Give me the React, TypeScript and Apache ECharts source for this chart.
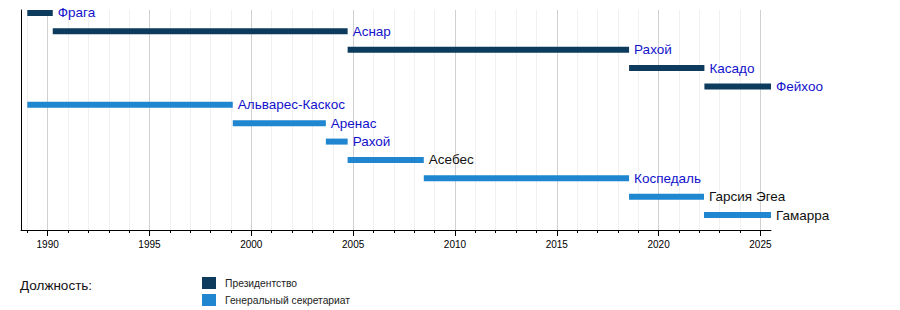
import React, { useEffect, useRef } from 'react';
import * as echarts from 'echarts';

// Президентство (decimal years)
const presNames = ['Фрага', 'Аснар', 'Рахой', 'Касадо', 'Фейхоо'];
const presStart = [1989.0, 1990.25, 2004.73, 2018.55, 2022.25];
const presEnd = [1990.25, 2004.73, 2018.55, 2022.25, 2025.52];
const presLinked = [true, true, true, true, true];
const presRows = [0, 1, 2, 3, 4];

// Генеральный секретариат
const secNames = ['Альварес-Каскос', 'Аренас', 'Рахой', 'Асебес', 'Коспедаль', 'Гарсия Эгеа', 'Гамарра'];
const secStart = [1989.0, 1999.09, 2003.66, 2004.73, 2008.47, 2018.55, 2022.23];
const secEnd = [1999.09, 2003.66, 2004.73, 2008.47, 2018.55, 2022.23, 2025.52];
const secLinked = [true, true, true, false, true, false, false];
const secRows = [5, 6, 7, 8, 9, 10, 11];

const minorYears = [1989, 1990, 1991, 1992, 1993, 1994, 1995, 1996, 1997, 1998, 1999, 2000, 2001, 2002, 2003, 2004, 2005, 2006, 2007, 2008, 2009, 2010, 2011, 2012, 2013, 2014, 2015, 2016, 2017, 2018, 2019, 2020, 2021, 2022, 2023, 2024, 2025];
const majorYears = [1990, 1995, 2000, 2005, 2010, 2015, 2020, 2025];

const seriesNames = ['Президентство', 'Генеральный секретариат'];
const PRES_COLOR = '#0c3b5e';
const SEC_COLOR = '#1f86cf';
const LINK_COLOR = '#1212cc';
const FONT = 'Liberation Sans';
const X_MIN = 1988.69;
const X_MAX = 2025.52;

function makeSeries(name: string, color: string, names: string[], starts: number[], ends: number[], rows: number[], linked: boolean[]) {
  return {
    type: 'custom',
    name,
    xAxisIndex: 0,
    yAxisIndex: 0,
    itemStyle: { color },
    z: 5,
    clip: false,
    encode: { x: [0, 1], y: 2 },
    data: names.map((_, i) => [starts[i], ends[i], rows[i]]),
    renderItem: (params: any, api: any) => {
      const i = params.dataIndex;
      const s = api.coord([api.value(0), api.value(2)]);
      const e = api.coord([api.value(1), api.value(2)]);
      const h = 6;
      return {
        type: 'group',
        children: [
          {
            type: 'rect',
            shape: { x: s[0], y: s[1] - h / 2, width: e[0] - s[0], height: h },
            style: { fill: color },
          },
          {
            type: 'text',
            x: e[0] + 5,
            y: e[1],
            style: {
              text: names[i],
              fill: linked[i] ? LINK_COLOR : '#111',
              fontSize: 13.5,
              fontFamily: FONT,
              verticalAlign: 'middle',
              align: 'left',
            },
          },
        ],
      };
    },
  };
}

export default function App() {
  const ref = useRef<HTMLDivElement>(null);
  useEffect(() => {
    document.body.style.margin = '0';
    const chart = echarts.init(ref.current!, null, { renderer: 'svg' });
    const option: any = {
      animation: false,
      grid: { left: 21, right: 129, top: 10, bottom: 80, containLabel: false },
      xAxis: [
        {
          type: 'value',
          min: X_MIN,
          max: X_MAX,
          position: 'bottom',
          axisLine: { show: true, onZero: false, lineStyle: { color: '#000', width: 1 } },
          axisTick: { show: true, customValues: minorYears, length: 3, lineStyle: { color: '#000' } },
          axisLabel: { show: false },
          splitLine: { show: false },
        },
        {
          type: 'value',
          min: X_MIN,
          max: X_MAX,
          position: 'bottom',
          axisLine: { show: false, onZero: false },
          axisTick: { show: true, customValues: majorYears, length: 6, lineStyle: { color: '#000' } },
          axisLabel: {
            show: true,
            customValues: majorYears,
            margin: 9,
            fontSize: 10,
            color: '#000',
            fontFamily: FONT,
            formatter: (v: number) => String(Math.round(v)),
          },
          splitLine: { show: false },
        },
      ],
      yAxis: {
        type: 'value',
        inverse: true,
        min: -0.16,
        max: 11.81,
        axisLine: { show: true, onZero: false, lineStyle: { color: '#000', width: 1 } },
        axisTick: { show: false },
        axisLabel: { show: false },
        splitLine: { show: false },
      },
      legend: {
        data: seriesNames,
        orient: 'vertical',
        left: 202,
        top: 277,
        padding: 0,
        icon: 'rect',
        itemWidth: 14,
        itemHeight: 12,
        itemGap: 5,
        selectedMode: false,
        textStyle: { fontSize: 10.3, color: '#222', fontFamily: FONT, padding: [0, 0, 0, 4] },
      },
      graphic: [
        {
          type: 'text',
          left: 20,
          top: 278,
          style: { text: 'Должность:', fontSize: 13.5, fill: '#111', fontFamily: FONT },
        },
      ],
      series: [
        {
          type: 'line',
          name: 'grid-minor',
          data: [],
          z: 1,
          silent: true,
          markLine: {
            z: 1,
            silent: true,
            symbol: 'none',
            label: { show: false },
            lineStyle: { color: '#f0f0f0', width: 1, type: 'solid' },
            data: minorYears.map((y) => ({ xAxis: y })),
          },
        },
        {
          type: 'line',
          name: 'grid-major',
          data: [],
          z: 1,
          silent: true,
          markLine: {
            z: 1,
            silent: true,
            symbol: 'none',
            label: { show: false },
            lineStyle: { color: '#d0d0d0', width: 1, type: 'solid' },
            data: majorYears.map((y) => ({ xAxis: y })),
          },
        },
        makeSeries(seriesNames[0], PRES_COLOR, presNames, presStart, presEnd, presRows, presLinked),
        makeSeries(seriesNames[1], SEC_COLOR, secNames, secStart, secEnd, secRows, secLinked),
      ],
    };
    chart.setOption(option);
    return () => chart.dispose();
  }, []);
  return <div ref={ref} style={{ width: 900, height: 310 }} />;
}
